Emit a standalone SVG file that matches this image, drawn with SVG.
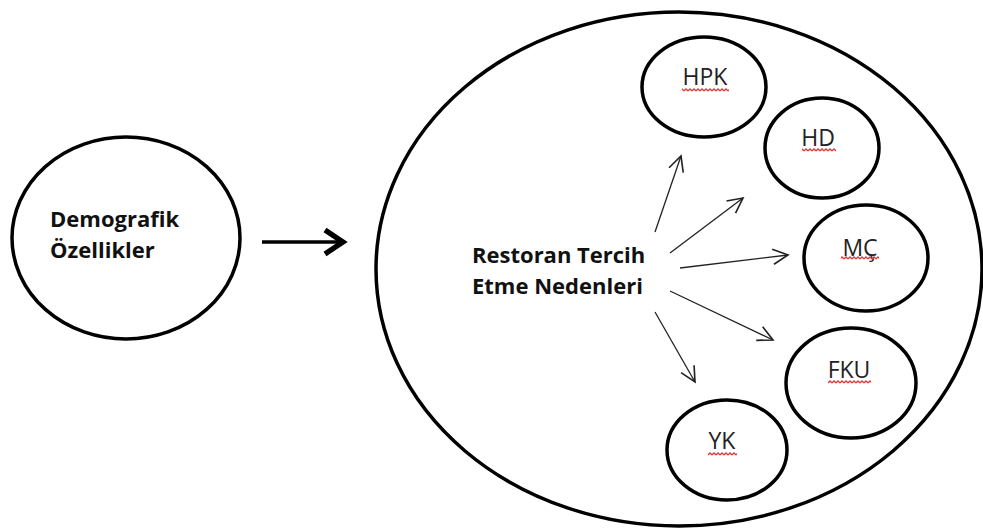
<svg xmlns="http://www.w3.org/2000/svg" width="983" height="529" viewBox="0 0 983 529">
<style>
.node{fill:none;stroke:#000;stroke-width:3.5}
.bold{font-family:"Open Sans","Liberation Sans",sans-serif;font-weight:bold;font-size:22px;fill:#111}
.lbl{font-family:"Open Sans","Liberation Sans",sans-serif;font-size:23px;fill:#222;text-anchor:middle}
.thin{stroke:#222;stroke-width:1.3;fill:none}
.sq{fill:url(#sq)}
</style>
<defs>
<marker id="ah" markerUnits="userSpaceOnUse" markerWidth="20" markerHeight="20" refX="0" refY="0" viewBox="-14 -8 16 16" orient="auto" overflow="visible">
<path d="M-12,-6 L0,0 L-12,6" fill="none" stroke="#222" stroke-width="1.3"/>
</marker>
<marker id="ahb" markerUnits="userSpaceOnUse" markerWidth="30" markerHeight="30" viewBox="-16 -10 20 20" orient="auto" overflow="visible">
<path d="M-12,-8 L0,0 L-12,8" fill="none" stroke="#000" stroke-width="3.5" stroke-linejoin="miter"/>
</marker>
<pattern id="sq" width="4" height="4" patternUnits="userSpaceOnUse">
<path d="M0 3 L2 1 L4 3" fill="none" stroke="#e23a3a" stroke-width="1.3"/>
</pattern>
</defs>
<g id="demografik">
<ellipse class="node" cx="126" cy="238" rx="114" ry="101"/>
<text class="bold" x="50" y="227">Demografik</text>
<text class="bold" x="50" y="258">Özellikler</text>
</g>
<g id="restoran">
<ellipse class="node" cx="679" cy="269" rx="303" ry="257"/>
<text class="bold" x="472" y="263">Restoran Tercih</text>
<text class="bold" x="472" y="294">Etme Nedenleri</text>
</g>
<g id="hpk">
<ellipse class="node" cx="704" cy="87" rx="62" ry="50"/>
<text class="lbl" x="705" y="85">HPK</text>
<rect class="sq" x="682" y="88" width="47" height="4"/>
</g>
<g id="hd">
<ellipse class="node" cx="822" cy="148" rx="57" ry="50"/>
<text class="lbl" x="818" y="146">HD</text>
<rect class="sq" x="802" y="148" width="34" height="4"/>
</g>
<g id="mc">
<ellipse class="node" cx="866" cy="258" rx="62" ry="53"/>
<text class="lbl" x="860" y="256">MÇ</text>
<rect class="sq" x="841" y="256" width="38" height="4"/>
</g>
<g id="fku">
<ellipse class="node" cx="851" cy="383" rx="65" ry="55"/>
<text class="lbl" x="849" y="378">FKU</text>
<rect class="sq" x="828" y="380" width="43" height="4"/>
</g>
<g id="yk">
<ellipse class="node" cx="727" cy="450" rx="60" ry="50"/>
<text class="lbl" x="722" y="449">YK</text>
<rect class="sq" x="708" y="452" width="29" height="4"/>
</g>
<g id="connectors">
<line x1="262" y1="242" x2="343" y2="242" stroke="#000" stroke-width="3.5" marker-end="url(#ahb)"/>
<line class="thin" x1="655" y1="232" x2="681" y2="156" marker-end="url(#ah)"/>
<line class="thin" x1="670" y1="253" x2="743" y2="198" marker-end="url(#ah)"/>
<line class="thin" x1="680" y1="268" x2="788" y2="255" marker-end="url(#ah)"/>
<line class="thin" x1="670" y1="291" x2="773" y2="340" marker-end="url(#ah)"/>
<line class="thin" x1="655" y1="312" x2="695" y2="382" marker-end="url(#ah)"/>
</g>
</svg>
